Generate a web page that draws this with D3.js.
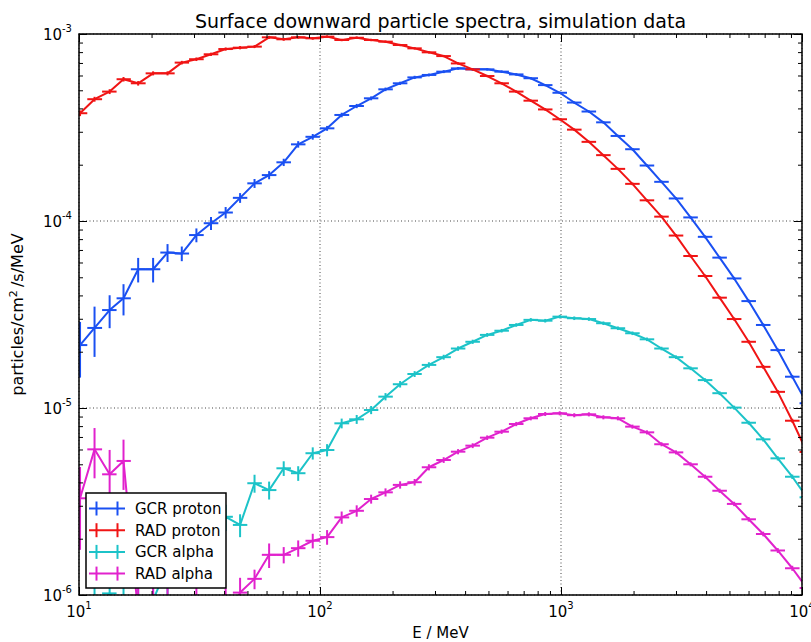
<!DOCTYPE html>
<html>
<head>
<meta charset="utf-8">
<script src="https://cdn.jsdelivr.net/npm/d3@7"></script>
<style>
    body { margin: 0; background: #fff; }
    svg text { font-family: "DejaVu Sans", sans-serif; fill: #000; }
</style>
</head>
<body>
<svg id="chart" width="811" height="642"></svg>
<script>
"use strict";

//
/* Data: */
//

// Bin centres, MeV
var energy = [10.1, 11.6, 13.4, 15.3, 17.6, 20.3, 23.3, 26.7, 30.7, 35.3,
    40.6, 46.6, 53.5, 61.5, 70.7, 81.2, 93.3, 107, 123, 142,
    163, 187, 215, 247, 283, 326, 374, 430, 494, 567,
    652, 749, 860, 988, 1135, 1305, 1499, 1722, 1979, 2273,
    2612, 3001, 3448, 3962, 4551, 5230, 6008, 6903, 7932, 9114, 10470];

// Fluxes, particles/cm2/s/MeV
var gcrProton = [2.17e-5, 2.68e-5, 3.34e-5, 3.86e-5, 5.52e-5, 5.52e-5, 6.78e-5, 6.70e-5, 8.41e-5, 9.73e-5,
    1.11e-4, 1.33e-4, 1.59e-4, 1.76e-4, 2.06e-4, 2.57e-4, 2.82e-4, 3.13e-4, 3.69e-4, 4.12e-4,
    4.53e-4, 5.06e-4, 5.45e-4, 5.86e-4, 6.04e-4, 6.29e-4, 6.55e-4, 6.47e-4, 6.47e-4, 6.29e-4,
    6.08e-4, 5.80e-4, 5.33e-4, 4.85e-4, 4.30e-4, 3.85e-4, 3.37e-4, 2.85e-4, 2.42e-4, 1.98e-4,
    1.62e-4, 1.32e-4, 1.045e-4, 8.23e-5, 6.37e-5, 4.93e-5, 3.73e-5, 2.78e-5, 2.04e-5, 1.47e-5, 1.06e-5];

var radProton = [3.77e-4, 4.48e-4, 4.92e-4, 5.73e-4, 5.45e-4, 6.16e-4, 6.16e-4, 7.03e-4, 7.33e-4, 7.79e-4,
    8.31e-4, 8.45e-4, 8.56e-4, 9.60e-4, 9.37e-4, 9.60e-4, 9.48e-4, 9.68e-4, 9.29e-4, 9.55e-4,
    9.29e-4, 9.10e-4, 8.73e-4, 8.38e-4, 7.98e-4, 7.62e-4, 6.96e-4, 6.47e-4, 5.96e-4, 5.45e-4,
    4.92e-4, 4.40e-4, 3.95e-4, 3.50e-4, 3.08e-4, 2.65e-4, 2.25e-4, 1.90e-4, 1.58e-4, 1.29e-4,
    1.055e-4, 8.36e-5, 6.50e-5, 5.08e-5, 3.89e-5, 2.99e-5, 2.26e-5, 1.66e-5, 1.22e-5, 8.55e-6, 5.82e-6];

var gcrAlpha = [5.0e-7, 7.4e-7, 1.02e-6, 8.5e-7, 7.8e-7, 9.4e-7, 1.43e-6, 1.70e-6, 2.0e-6, 2.35e-6,
    2.62e-6, 2.37e-6, 3.96e-6, 3.64e-6, 4.76e-6, 4.48e-6, 5.73e-6, 5.96e-6, 8.28e-6, 8.70e-6,
    9.76e-6, 1.15e-5, 1.34e-5, 1.52e-5, 1.70e-5, 1.87e-5, 2.08e-5, 2.26e-5, 2.46e-5, 2.59e-5,
    2.78e-5, 2.96e-5, 2.93e-5, 3.08e-5, 3.02e-5, 2.99e-5, 2.84e-5, 2.67e-5, 2.51e-5, 2.33e-5,
    2.08e-5, 1.87e-5, 1.63e-5, 1.41e-5, 1.20e-5, 1.005e-5, 8.34e-6, 6.80e-6, 5.38e-6, 4.29e-6, 3.33e-6];

var radAlpha = [3.29e-6, 6.01e-6, 4.42e-6, 5.21e-6, 8.0e-7, 9.0e-7, 7.0e-7, 6.0e-7, 8.0e-7, 5.0e-7,
    7.0e-7, 1.03e-6, 1.22e-6, 1.64e-6, 1.64e-6, 1.78e-6, 1.95e-6, 2.04e-6, 2.60e-6, 2.82e-6,
    3.26e-6, 3.54e-6, 3.88e-6, 4.01e-6, 4.82e-6, 5.27e-6, 5.84e-6, 6.29e-6, 6.94e-6, 7.47e-6,
    8.21e-6, 8.81e-6, 9.29e-6, 9.37e-6, 9.15e-6, 9.25e-6, 8.92e-6, 8.81e-6, 7.95e-6, 7.41e-6,
    6.40e-6, 5.79e-6, 5.00e-6, 4.29e-6, 3.61e-6, 3.07e-6, 2.54e-6, 2.12e-6, 1.73e-6, 1.39e-6, 1.09e-6];

// Relative (1 sigma) errors
var gcrProtonErr = [0.33, 0.30, 0.20, 0.19, 0.15, 0.15, 0.11, 0.09, 0.085, 0.08,
    0.07, 0.06, 0.055, 0.05, 0.045, 0.04, 0.035, 0.03, 0.028, 0.026,
    0.024, 0.022, 0.02, 0.02, 0.018, 0.018, 0.016, 0.016, 0.015, 0.015,
    0.015, 0.014, 0.014, 0.014, 0.014, 0.014, 0.014, 0.015, 0.015, 0.015,
    0.016, 0.016, 0.017, 0.018, 0.018, 0.019, 0.02, 0.02, 0.021, 0.022, 0.024];

var radProtonErr = [0.035, 0.03, 0.03, 0.028, 0.028, 0.025, 0.025, 0.022, 0.022, 0.02,
    0.02, 0.02, 0.018, 0.018, 0.017, 0.016, 0.016, 0.015, 0.015, 0.015,
    0.015, 0.014, 0.014, 0.014, 0.014, 0.014, 0.014, 0.014, 0.014, 0.014,
    0.014, 0.014, 0.014, 0.014, 0.014, 0.015, 0.015, 0.015, 0.016, 0.016,
    0.017, 0.018, 0.018, 0.019, 0.02, 0.02, 0.021, 0.022, 0.023, 0.024, 0.026];

var gcrAlphaErr = [0.5, 0.5, 0.3, 0.45, 0.45, 0.4, 0.3, 0.28, 0.25, 0.22,
    0.16, 0.14, 0.11, 0.11, 0.09, 0.09, 0.075, 0.075, 0.06, 0.055,
    0.05, 0.045, 0.04, 0.036, 0.033, 0.03, 0.028, 0.026, 0.024, 0.022,
    0.022, 0.022, 0.022, 0.022, 0.022, 0.022, 0.022, 0.022, 0.022, 0.022,
    0.022, 0.022, 0.022, 0.023, 0.023, 0.024, 0.024, 0.025, 0.026, 0.027, 0.028];

var radAlphaErr = [0.47, 0.3, 0.35, 0.3, 0.45, 0.4, 0.6, 0.5, 0.5, 0.5,
    0.55, 0.2, 0.12, 0.15, 0.1, 0.1, 0.09, 0.09, 0.075, 0.07,
    0.055, 0.05, 0.045, 0.04, 0.038, 0.035, 0.032, 0.03, 0.028, 0.027,
    0.026, 0.025, 0.025, 0.025, 0.025, 0.025, 0.025, 0.025, 0.025, 0.025,
    0.025, 0.025, 0.025, 0.026, 0.026, 0.027, 0.028, 0.029, 0.03, 0.031, 0.033];

var seriesNames = ["GCR proton", "RAD proton", "GCR alpha", "RAD alpha"];
var seriesValues = [gcrProton, radProton, gcrAlpha, radAlpha];
var seriesErrors = [gcrProtonErr, radProtonErr, gcrAlphaErr, radAlphaErr];
var seriesColors = ["#1a50f2", "#f01414", "#1cc3c8", "#e122cd"];

var xMajorTicks = [1e1, 1e2, 1e3, 1e4];
var xTickExponents = ["1", "2", "3", "4"];
var yMajorTicks = [1e-6, 1e-5, 1e-4, 1e-3];
var yTickExponents = ["-6", "-5", "-4", "-3"];

var titleText = "Surface downward particle spectra, simulation data";
var xLabelText = "E / MeV";


//
/* Layout: */
//
var plotLeft = 79, plotRight = 802, plotTop = 34, plotBottom = 595;

var svg = d3.select("#chart");

var x = d3.scaleLog().domain([10, 1e4]).range([plotLeft, plotRight]);
var y = d3.scaleLog().domain([1e-6, 1e-3]).range([plotBottom, plotTop]);

svg.append("rect")
    .attr("width", 811)
    .attr("height", 642)
    .attr("fill", "#fff");

svg.append("defs").append("clipPath")
    .attr("id", "plotClip")
    .append("rect")
    .attr("x", plotLeft)
    .attr("y", plotTop)
    .attr("width", plotRight - plotLeft)
    .attr("height", plotBottom - plotTop);

// Grid (dotted, at the decades)
var grid = svg.append("g").attr("class", "grid");
grid.selectAll(".gx")
    .data(xMajorTicks)
    .enter()
    .append("line")
    .attr("x1", function (d) { return x(d); })
    .attr("x2", function (d) { return x(d); })
    .attr("y1", plotTop)
    .attr("y2", plotBottom)
    .attr("stroke", "#444")
    .attr("stroke-width", 1)
    .attr("stroke-dasharray", "1,2.5");
grid.selectAll(".gy")
    .data(yMajorTicks)
    .enter()
    .append("line")
    .attr("x1", plotLeft)
    .attr("x2", plotRight)
    .attr("y1", function (d) { return y(d); })
    .attr("y2", function (d) { return y(d); })
    .attr("stroke", "#444")
    .attr("stroke-width", 1)
    .attr("stroke-dasharray", "1,2.5");


//
/* Series: */
//
function binEdges(i)
{
    // half a log step either side of the bin centre
    var prev = i > 0 ? energy[i - 1] : energy[i] * energy[i] / energy[i + 1];
    var next = i < energy.length - 1 ? energy[i + 1] : energy[i] * energy[i] / energy[i - 1];
    return [Math.sqrt(prev * energy[i]), Math.sqrt(energy[i] * next)];
}

var line = d3.line()
    .x(function (d) { return x(d.e); })
    .y(function (d) { return y(d.v); });

var plot = svg.append("g").attr("clip-path", "url(#plotClip)");

seriesNames.forEach(function (name, s)
{
    var points = energy.map(function (e, i) {
        return { e: e, v: seriesValues[s][i], err: seriesErrors[s][i], edges: binEdges(i) };
    });

    var g = plot.append("g").attr("class", "series");

    g.append("path")
        .datum(points)
        .attr("d", line)
        .attr("fill", "none")
        .attr("stroke", seriesColors[s])
        .attr("stroke-width", 2)
        .attr("stroke-linejoin", "round");

    // x error bars = bin widths
    g.selectAll(".xerr")
        .data(points)
        .enter()
        .append("line")
        .attr("x1", function (d) { return x(d.edges[0]); })
        .attr("x2", function (d) { return x(d.edges[1]); })
        .attr("y1", function (d) { return y(d.v); })
        .attr("y2", function (d) { return y(d.v); })
        .attr("stroke", seriesColors[s])
        .attr("stroke-width", 2);

    // y error bars
    g.selectAll(".yerr")
        .data(points)
        .enter()
        .append("line")
        .attr("x1", function (d) { return x(d.e); })
        .attr("x2", function (d) { return x(d.e); })
        .attr("y1", function (d) { return y(d.v * (1 + d.err)); })
        .attr("y2", function (d) { return y(d.v * (1 - d.err)); })
        .attr("stroke", seriesColors[s])
        .attr("stroke-width", 2);
});


//
/* Axes: ticks inward on all four sides */
//
var xMinor = x.ticks().filter(function (t) { return xMajorTicks.indexOf(t) < 0; });
var yMinor = y.ticks().filter(function (t) {
    return yMajorTicks.every(function (m) { return Math.abs(t / m - 1) > 1e-6; });
});

function addAxis(axisFn, scale, ticks, size, transform)
{
    var a = svg.append("g")
        .attr("transform", transform)
        .call(axisFn(scale).tickValues(ticks).tickSize(-size).tickFormat(""));
    a.select(".domain").remove();
    a.selectAll("line").attr("stroke", "#000").attr("stroke-width", 1);
}

addAxis(d3.axisBottom, x, xMajorTicks, 8, "translate(0," + plotBottom + ")");
addAxis(d3.axisBottom, x, xMinor, 4, "translate(0," + plotBottom + ")");
addAxis(d3.axisTop, x, xMajorTicks, 8, "translate(0," + plotTop + ")");
addAxis(d3.axisTop, x, xMinor, 4, "translate(0," + plotTop + ")");
addAxis(d3.axisLeft, y, yMajorTicks, 8, "translate(" + plotLeft + ",0)");
addAxis(d3.axisLeft, y, yMinor, 4, "translate(" + plotLeft + ",0)");
addAxis(d3.axisRight, y, yMajorTicks, 8, "translate(" + plotRight + ",0)");
addAxis(d3.axisRight, y, yMinor, 4, "translate(" + plotRight + ",0)");

svg.append("rect")
    .attr("x", plotLeft)
    .attr("y", plotTop)
    .attr("width", plotRight - plotLeft)
    .attr("height", plotBottom - plotTop)
    .attr("fill", "none")
    .attr("stroke", "#000")
    .attr("stroke-width", 1.5);

// Tick labels: 10^n
var xLabels = svg.append("g")
    .selectAll("text")
    .data(xMajorTicks)
    .enter()
    .append("text")
    .attr("x", function (d) { return x(d); })
    .attr("y", 617)
    .attr("text-anchor", "middle")
    .attr("font-size", 15)
    .text("10");
xLabels.append("tspan")
    .attr("dy", -8)
    .attr("font-size", 10)
    .text(function (d, i) { return xTickExponents[i]; });

var yLabels = svg.append("g")
    .selectAll("text")
    .data(yMajorTicks)
    .enter()
    .append("text")
    .attr("x", 72)
    .attr("y", function (d) { return y(d) + 6; })
    .attr("text-anchor", "end")
    .attr("font-size", 15)
    .text("10");
yLabels.append("tspan")
    .attr("dy", -8)
    .attr("font-size", 10)
    .text(function (d, i) { return yTickExponents[i]; });

// Title and axis labels
svg.append("text")
    .attr("x", (plotLeft + plotRight) / 2)
    .attr("y", 28)
    .attr("text-anchor", "middle")
    .attr("font-size", 19)
    .text(titleText);

svg.append("text")
    .attr("x", (plotLeft + plotRight) / 2)
    .attr("y", 638)
    .attr("text-anchor", "middle")
    .attr("font-size", 15)
    .text(xLabelText);

var yLabel = svg.append("text")
    .attr("transform", "translate(23," + ((plotTop + plotBottom) / 2) + ") rotate(-90)")
    .attr("text-anchor", "middle")
    .attr("font-size", 16);
yLabel.append("tspan").text("particles/cm");
yLabel.append("tspan").attr("dy", -6).attr("font-size", 11).text("2");
yLabel.append("tspan").attr("dy", 6).text("\u2009/s/MeV");


//
/* Legend: */
//
var legend = svg.append("g").attr("class", "legend");
legend.append("rect")
    .attr("x", 86)
    .attr("y", 493)
    .attr("width", 140)
    .attr("height", 95)
    .attr("fill", "#fff")
    .attr("stroke", "#000")
    .attr("stroke-width", 1.5);

var rows = legend.selectAll(".row")
    .data(seriesNames)
    .enter()
    .append("g")
    .attr("transform", function (d, i) { return "translate(0," + (508.5 + i * 21.7) + ")"; });

rows.append("line")
    .attr("x1", 89).attr("x2", 125)
    .attr("y1", 0).attr("y2", 0)
    .attr("stroke", function (d, i) { return seriesColors[i]; })
    .attr("stroke-width", 2);
[96.5, 117.5].forEach(function (px) {
    rows.append("line")
        .attr("x1", px).attr("x2", px)
        .attr("y1", -7).attr("y2", 7)
        .attr("stroke", function (d, i) { return seriesColors[i]; })
        .attr("stroke-width", 2);
});
rows.append("text")
    .attr("x", 135)
    .attr("y", 5.5)
    .attr("font-size", 15)
    .text(function (d) { return d; });
</script>
</body>
</html>
